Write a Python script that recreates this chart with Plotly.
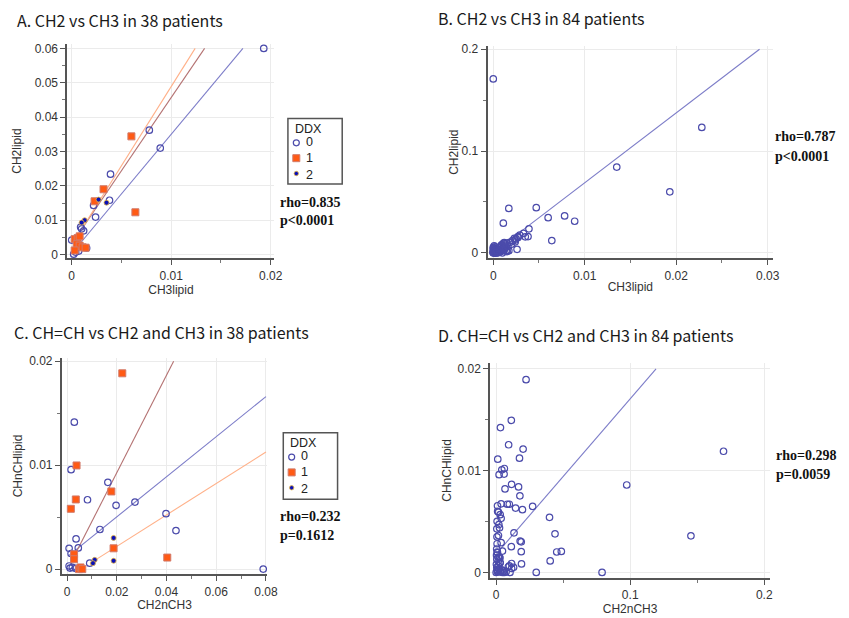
import plotly.graph_objects as go

# ---------------- Panel A: CH2 vs CH3 in 38 patients (by DDX) ----------------
A_ddx0_x = [0.0193, 0.0078, 0.0089, 0.0039, 0.0038, 0.0022, 0.0024, 0.0009, 0.0012,
            0.0000, 0.0015, 0.0007, 0.0004, 0.0002, 0.0010]
A_ddx0_y = [0.0600, 0.0362, 0.0310, 0.0234, 0.0158, 0.0143, 0.0109, 0.0080, 0.0069,
            0.0042, 0.0019, 0.0010, 0.0007, 0.0001, 0.0075]
A_ddx1_x = [0.0060, 0.0064, 0.0032, 0.0023, 0.0003, 0.0006, 0.0008, 0.0005, 0.0008,
            0.0011, 0.0014, 0.0003]
A_ddx1_y = [0.0344, 0.0123, 0.0190, 0.0155, 0.0045, 0.0048, 0.0053, 0.0030, 0.0026,
            0.0021, 0.0020, 0.0012]
A_ddx2_x = [0.0027, 0.0035, 0.0013, 0.0010]
A_ddx2_y = [0.0160, 0.0151, 0.0100, 0.0093]
# regression lines (DDX 0, 1, 2): intercept, slope, start x
A_fit_intercept = [0.0003, 0.0031, 0.0028]
A_fit_slope = [3.47, 4.26, 4.61]
A_fit_xstart = [0.0, 0.0002, 0.0003]

# ---------------- Panel B: CH2 vs CH3 in 84 patients ----------------
B_x = [0.0000, 0.0228, 0.0135, 0.0193, 0.0017, 0.0047, 0.0011, 0.0060, 0.0078, 0.0089,
       0.0039, 0.0064, 0.0026, 0.0033, 0.0035, 0.0038, 0.0029, 0.0027, 0.0025, 0.0023,
       0.0024, 0.0021, 0.0024, 0.0018, 0.0015, 0.0013, 0.0011, 0.0012, 0.0009, 0.0012,
       0.0009, 0.0008, 0.0006, 0.0003, 0.0006, 0.0008, 0.0000, 0.0001, 0.0000, 0.0004,
       0.0002, 0.0005, 0.0008, 0.0011, 0.0014, 0.0015, 0.0017, 0.0015, 0.0008, 0.0003,
       0.0005, 0.0007, 0.0000, 0.0001, 0.0002, 0.0003, 0.0009, 0.0012, 0.0013, 0.0004,
       0.0000, 0.0001, 0.0002, 0.0003, 0.0000, 0.0001, 0.0002, 0.0004, 0.0006, 0.0000,
       0.0001, 0.0002, 0.0000, 0.0005, 0.0003, 0.0010, 0.0007, 0.0016, 0.0020, 0.0002,
       0.0001, 0.0027, 0.0003, 0.0010]
B_y = [0.1708, 0.1232, 0.0843, 0.0600, 0.0437, 0.0444, 0.0292, 0.0346, 0.0363, 0.0311,
       0.0236, 0.0121, 0.0035, 0.0191, 0.0158, 0.0160, 0.0175, 0.0152, 0.0140, 0.0143,
       0.0126, 0.0120, 0.0109, 0.0103, 0.0097, 0.0088, 0.0093, 0.0100, 0.0080, 0.0069,
       0.0071, 0.0061, 0.0049, 0.0045, 0.0048, 0.0053, 0.0054, 0.0040, 0.0042, 0.0035,
       0.0029, 0.0030, 0.0026, 0.0021, 0.0020, 0.0019, 0.0022, 0.0013, 0.0013, 0.0016,
       0.0010, 0.0010, 0.0010, 0.0005, 0.0001, 0.0012, 0.0029, 0.0029, 0.0054, 0.0007,
       0.0000, 0.0002, 0.0004, 0.0000, 0.0020, 0.0030, 0.0015, 0.0002, 0.0003, 0.0006,
       0.0012, 0.0008, 0.0003, 0.0006, 0.0024, 0.0040, 0.0036, 0.0063, 0.0085, 0.0060,
       0.0070, 0.0160, 0.0002, 0.0001]
B_fit_intercept = 0.0003
B_fit_slope = 6.86
B_fit_xstart = 0.0

# ---------------- Panel C: CH=CH vs CH2 and CH3 in 38 patients ----------------
C_ddx0_x = [0.0029, 0.0016, 0.0164, 0.0082, 0.0197, 0.0273, 0.0398, 0.0438, 0.0132,
            0.0036, 0.0008, 0.0045, 0.0016, 0.0091, 0.0008, 0.0021, 0.0035, 0.0789, 0.0012]
C_ddx0_y = [0.01413, 0.00956, 0.00835, 0.00667, 0.00613, 0.00645, 0.00533, 0.00371, 0.00381,
            0.00290, 0.00200, 0.00204, 0.00150, 0.00057, 0.00030, 0.00016, 0.00007, 0.00000, 0.00010]
C_ddx1_x = [0.0222, 0.0038, 0.0178, 0.0035, 0.0015, 0.0187, 0.0028, 0.0028, 0.0403,
            0.0048, 0.0054, 0.0061]
C_ddx1_y = [0.01883, 0.00997, 0.00747, 0.00670, 0.00580, 0.00200, 0.00143, 0.00095, 0.00111,
            0.00000, 0.00016, 0.00000]
C_ddx2_x = [0.0187, 0.0187, 0.0111, 0.0104]
C_ddx2_y = [0.00300, 0.00080, 0.00089, 0.00057]
C_fit_intercept = [0.00117, -0.0001, -0.00084]
C_fit_slope = [0.1928, 0.469, 0.1513]
C_fit_xstart = [0.0005, 0.0015, 0.0092]

# ---------------- Panel D: CH=CH vs CH2 and CH3 in 84 patients ----------------
D_x = [0.0223, 0.0113, 0.0032, 0.0093, 0.0201, 0.1696, 0.0012, 0.0174, 0.0061, 0.0042,
       0.0059, 0.0022, 0.0974, 0.0115, 0.0167, 0.0066, 0.0177, 0.0037, 0.0083, 0.0098,
       0.0010, 0.0145, 0.0196, 0.0272, 0.0017, 0.0030, 0.0037, 0.0007, 0.0398, 0.0439,
       0.1453, 0.0133, 0.0005, 0.0025, 0.0017, 0.0007, 0.0037, 0.0113, 0.0179, 0.0187,
       0.0047, 0.0187, 0.0452, 0.0486, 0.0010, 0.0025, 0.0005, 0.0403, 0.0030, 0.0115,
       0.0189, 0.0098, 0.0091, 0.0017, 0.0005, 0.0299, 0.0790, 0.0010, 0.0030, 0.0054,
       0.0074, 0.0103, 0.0115, 0.0022, 0.0000, 0.0012, 0.0042, 0.0061, 0.0048, 0.0130,
       0.0008, 0.0016, 0.0008, 0.0035, 0.0002, 0.0015, 0.0003, 0.0004, 0.0028, 0.0028,
       0.0006, 0.0020, 0.0011, 0.0009]
D_y = [0.01893, 0.01494, 0.01423, 0.01254, 0.01212, 0.01190, 0.01112, 0.01122, 0.01021, 0.01008,
       0.00966, 0.00960, 0.00859, 0.00865, 0.00840, 0.00820, 0.00752, 0.00674, 0.00670, 0.00670,
       0.00655, 0.00632, 0.00616, 0.00648, 0.00593, 0.00567, 0.00532, 0.00502, 0.00541, 0.00379,
       0.00360, 0.00389, 0.00428, 0.00438, 0.00363, 0.00282, 0.00292, 0.00253, 0.00308, 0.00301,
       0.00210, 0.00204, 0.00201, 0.00207, 0.00194, 0.00152, 0.00130, 0.00113, 0.00097, 0.00088,
       0.00084, 0.00065, 0.00055, 0.00065, 0.00049, 0.00000, 0.00000, 0.00015, 0.00005, 0.00016,
       0.00005, 0.00000, 0.00040, 0.00035, 0.00000, 0.00010, 0.00025, 0.00000, 0.00000, 0.00050,
       0.00030, 0.00150, 0.00200, 0.00007, 0.00080, 0.00110, 0.00170, 0.00230, 0.00143, 0.00095,
       0.00350, 0.00470, 0.00600, 0.00010]
D_fit_intercept = 0.0018
D_fit_slope = 0.1526
D_fit_xstart = 0.0017

# ---------------- text ----------------
titles = ["A. CH2 vs CH3 in 38 patients", "B. CH2 vs CH3 in 84 patients",
          "C. CH=CH vs CH2 and CH3 in 38 patients", "D. CH=CH vs CH2 and CH3 in 84 patients"]
rho_text = ["rho=0.835", "rho=0.787", "rho=0.232", "rho=0.298"]
p_text = ["p&lt;0.0001", "p&lt;0.0001", "p=0.1612", "p=0.0059"]
legend_title = "DDX"
ddx_labels = ["0", "1", "2"]

# ---------------- styling ----------------
W, H = 849, 618
C0_MK, C0_LN = "#4b4bab", "#7c7cc8"
C1_MK, C1_LN, C1_EDGE = "#ff5a14", "#b47272", "#d27a6a"
C2_MK, C2_LN, C2_EDGE = "#0a10b8", "#ffb088", "#e8b840"
marker_styles = [
    dict(symbol="circle-open", size=6.5, color=C0_MK, line=dict(width=1.2, color=C0_MK)),
    dict(symbol="square", size=7, color=C1_MK, line=dict(width=1, color=C1_EDGE)),
    dict(symbol="circle", size=5, color=C2_MK, line=dict(width=0.8, color=C2_EDGE)),
]
line_colors = [C0_LN, C1_LN, C2_LN]

def fit_line(b, m, x0, xmax, ymax):
    x1 = min(xmax, (ymax - b) / m)
    return [x0, x1], [b + m * x0, b + m * x1]

fig = go.Figure()

def add_groups(xs, ys, axes, intercepts, slopes, xstarts, xmax, ymax):
    xa, ya = axes
    for g in range(3):
        fx, fy = fit_line(intercepts[g], slopes[g], xstarts[g], xmax, ymax)
        fig.add_trace(go.Scatter(x=fx, y=fy, mode="lines", xaxis=xa, yaxis=ya,
                                 line=dict(color=line_colors[g], width=1.1),
                                 showlegend=False, hoverinfo="skip"))
    for g in range(3):
        fig.add_trace(go.Scatter(x=xs[g], y=ys[g], mode="markers", xaxis=xa, yaxis=ya,
                                 marker=marker_styles[g], name=ddx_labels[g], showlegend=False))

add_groups([A_ddx0_x, A_ddx1_x, A_ddx2_x], [A_ddx0_y, A_ddx1_y, A_ddx2_y], ("x", "y"),
           A_fit_intercept, A_fit_slope, A_fit_xstart, 0.02, 0.06)
add_groups([C_ddx0_x, C_ddx1_x, C_ddx2_x], [C_ddx0_y, C_ddx1_y, C_ddx2_y], ("x3", "y3"),
           C_fit_intercept, C_fit_slope, C_fit_xstart, 0.08, 0.02)

fx, fy = fit_line(B_fit_intercept, B_fit_slope, B_fit_xstart, 0.03, 0.2)
fig.add_trace(go.Scatter(x=fx, y=fy, mode="lines", xaxis="x2", yaxis="y2",
                         line=dict(color=C0_LN, width=1.1), showlegend=False, hoverinfo="skip"))
fig.add_trace(go.Scatter(x=B_x, y=B_y, mode="markers", xaxis="x2", yaxis="y2",
                         marker=marker_styles[0], showlegend=False))
fx, fy = fit_line(D_fit_intercept, D_fit_slope, D_fit_xstart, 0.2, 0.02)
fig.add_trace(go.Scatter(x=fx, y=fy, mode="lines", xaxis="x4", yaxis="y4",
                         line=dict(color=C0_LN, width=1.1), showlegend=False, hoverinfo="skip"))
fig.add_trace(go.Scatter(x=D_x, y=D_y, mode="markers", xaxis="x4", yaxis="y4",
                         marker=marker_styles[0], showlegend=False))

TICKFONT = dict(family="Liberation Sans, Arial", size=12, color="#333333")
TITLEFONT = dict(family="Liberation Sans, Arial", size=12, color="#333333")

def ax(domain, rng, dtick, minor, title, anchor, standoff):
    return dict(domain=domain, range=rng, dtick=dtick, tick0=0, anchor=anchor,
                showline=True, linecolor="#555555", linewidth=2,
                ticks="outside", ticklen=5, tickwidth=1, tickcolor="#555555",
                showgrid=True, gridcolor="#ebebeb", gridwidth=1, zeroline=False,
                tickfont=TICKFONT, title=dict(text=title, font=TITLEFONT, standoff=standoff),
                minor=dict(dtick=minor, tick0=0, ticks="outside", ticklen=3, tickcolor="#777777", showgrid=False),
                fixedrange=True)

def px2dom(a, b):
    return [a / W, b / W]

def py2dom(top, bottom):
    return [1 - bottom / H, 1 - top / H]

fig.update_layout(
    width=W, height=H, margin=dict(l=0, r=0, t=0, b=0),
    paper_bgcolor="white", plot_bgcolor="white", showlegend=False,
    xaxis=ax(px2dom(68.3, 278), [-0.00043, 0.02037], 0.01, 0.005, "CH3lipid", "y", 1),
    yaxis=ax(py2dom(41, 258), [-0.00115, 0.0614], 0.01, 0.005, "CH2lipid", "x", 10),
    xaxis2=ax(px2dom(494, 783.3), [-0.00062, 0.0306], 0.01, 0.005, "CH3lipid", "y2", 1),
    yaxis2=ax(py2dom(43.3, 258), [-0.0055, 0.2033], 0.1, 0.05, "CH2lipid", "x2", 0),
    xaxis3=ax(px2dom(62.7, 270.7), [-0.0021, 0.0805], 0.02, 0.01, "CH2nCH3", "y3", 3),
    yaxis3=ax(py2dom(358.3, 576.7), [-0.00048, 0.02032], 0.01, 0.005, "CHnCHlipid", "x3", 4),
    xaxis4=ax(px2dom(496.7, 780), [-0.0044, 0.2042], 0.1, 0.05, "CH2nCH3", "y4", 2),
    yaxis4=ax(py2dom(363.3, 580.7), [-0.00055, 0.02059], 0.01, 0.005, "CHnCHlipid", "x4", 3),
)

# panel titles
title_pos = [(15, 17), (442, 15), (12, 332), (442, 335)]
for t, (x, y) in zip(titles, title_pos):
    fig.add_annotation(text=t, xref="paper", yref="paper", x=x / W, y=1 - y / H,
                       xanchor="left", yanchor="middle", showarrow=False,
                       font=dict(family="Noto Sans CJK KR, Noto Sans", size=16, color="#1a1a1a"))

# statistics text
stat_pos = [(282.7, 201, 219.3), (784, 135, 155), (282.7, 519, 537.3), (785, 456.7, 475.7)]
for r, p, (x, y1, y2) in zip(rho_text, p_text, stat_pos):
    for txt, yy in ((r, y1), (p, y2)):
        fig.add_annotation(text="<b>" + txt + "</b>", xref="paper", yref="paper",
                           x=x / W, y=1 - yy / H, xanchor="left", yanchor="middle",
                           showarrow=False, borderpad=0,
                           font=dict(family="Liberation Serif, Times New Roman", size=14, color="#111"))

# DDX legend boxes (panels A and C), drawn as a framed key
LEGFONT = dict(family="Liberation Sans, Arial", size=12.5, color="#222222")
legend_boxes = [(291.7, 116.7, 346.7, 182.7), (287, 434, 342, 501)]
for (lx0, ly0, lx1, ly1) in legend_boxes:
    fig.add_shape(type="rect", xref="paper", yref="paper",
                  x0=lx0 / W, x1=lx1 / W, y0=1 - ly1 / H, y1=1 - ly0 / H,
                  line=dict(color="#555555", width=1.5), fillcolor="white", layer="above")
    fig.add_annotation(text=legend_title, xref="paper", yref="paper", x=(lx0 + 6) / W,
                       y=1 - (ly0 + 10.5) / H, xanchor="left", yanchor="middle",
                       showarrow=False, borderpad=0, font=LEGFONT)
    fig.add_annotation(text="<br>".join(ddx_labels), xref="paper", yref="paper",
                       x=(lx0 + 17) / W, y=1 - (ly0 + 40) / H, xanchor="left",
                       yanchor="middle", align="left", showarrow=False, borderpad=0,
                       font=LEGFONT)
    for g in range(3):
        cy = ly0 + 24.5 + 15.5 * g
        cx = lx0 + 8.5
        half = [3, 3.5, 2.2][g]
        fill = ["white", C1_MK, C2_MK][g]
        edge = [C0_MK, C1_EDGE, C2_EDGE][g]
        ew = [1.2, 1, 0.8][g]
        fig.add_shape(type="rect" if g == 1 else "circle", xref="paper", yref="paper",
                      xsizemode="pixel", ysizemode="pixel",
                      xanchor=cx / W, yanchor=1 - cy / H,
                      x0=-half, x1=half, y0=-half, y1=half,
                      fillcolor=fill, line=dict(color=edge, width=ew), layer="above")

fig.write_html("out.html", config={"displayModeBar": False},
               post_script="document.body.style.margin='0';")
